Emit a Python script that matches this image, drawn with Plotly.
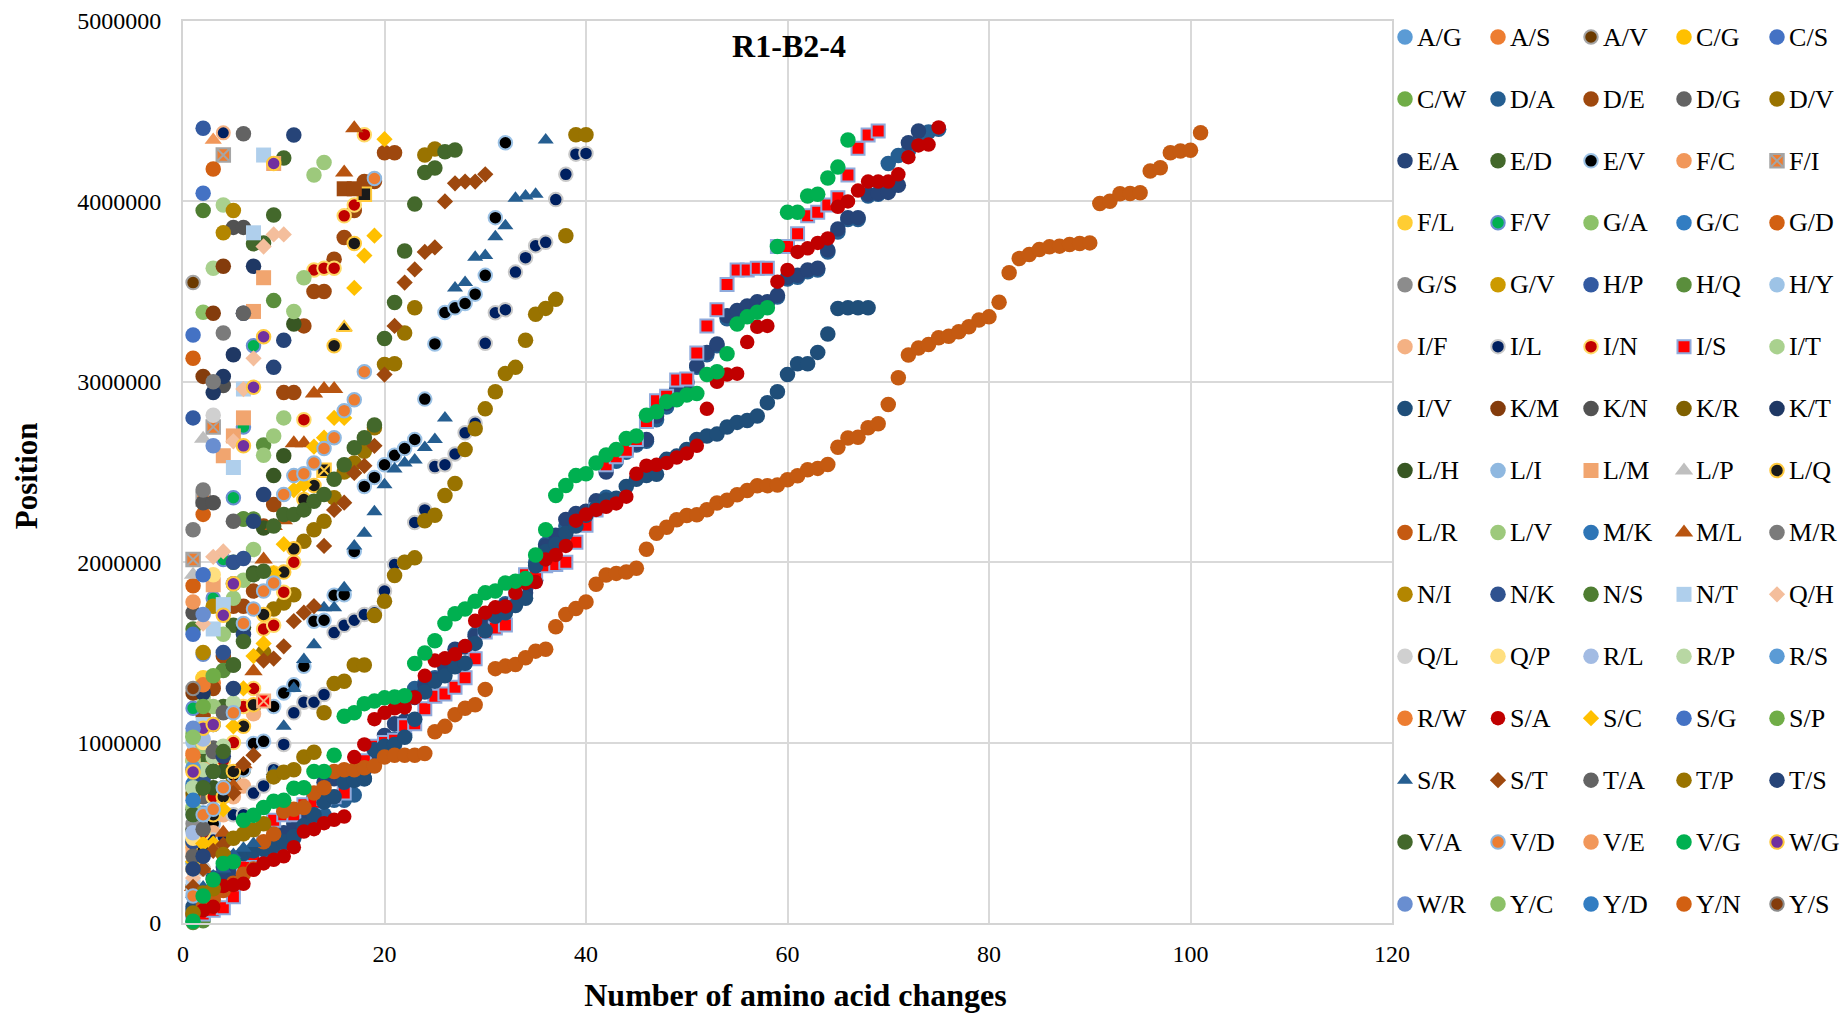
import plotly.graph_objects as go

FONT = "Liberation Serif"
names = ["A/G","A/S","A/V","C/G","C/S","C/W","D/A","D/E","D/G","D/V","E/A","E/D","E/V","F/C","F/I",
"F/L","F/V","G/A","G/C","G/D","G/S","G/V","H/P","H/Q","H/Y","I/F","I/L","I/N","I/S","I/T",
"I/V","K/M","K/N","K/R","K/T","L/H","L/I","L/M","L/P","L/Q","L/R","L/V","M/K","M/L","M/R",
"N/I","N/K","N/S","N/T","Q/H","Q/L","Q/P","R/L","R/P","R/S","R/W","S/A","S/C","S/G","S/P",
"S/R","S/T","T/A","T/P","T/S","V/A","V/D","V/E","V/G","W/G","W/R","Y/C","Y/D","Y/N","Y/S"]

fills = ["#5B9BD5","#ED7D31","#6B3A00","#FFC000","#4472C4","#70AD47","#255E91","#9E480E","#636363","#997300",
"#264478","#43682B","#000000","#F1975A","#ED7D31","#FFCD33","#00B050","#8CC168","#327DC2","#D26012",
"#8C8C8C","#CC9A00","#335AA1","#5A8E3C","#9DC3E6","#F4B183","#002060","#C00000","#FF0000","#A9D18E",
"#1F4E79","#843C0C","#525252","#7F6000","#1F3864","#385723","#8FB8E0","#F1A56F","#BFBFBF","#1A1A1A",
"#C55A11","#9DC97C","#2E75B6","#B85410","#7B7B7B","#B38600","#2F528F","#4E7D31","#AFCFEC","#F4BE9C",
"#D0D0D0","#FFDF80","#A2BBE3","#B8D7A3","#5B9BD5","#ED7D31","#C00000","#FFC000","#4472C4","#70AD47",
"#255E91","#9E480E","#636363","#997300","#264478","#43682B","#ED7D31","#F1975A","#00B050","#7030A0",
"#698ED0","#8CC168","#327DC2","#D26012","#843C0C"]

borders = {"A/V":"#A5A5A5","E/V":"#9DC3E6","F/I":"#A5A5A5","F/V":"#698ED0","I/L":"#C9C9C9","I/N":"#FFD966",
"I/S":"#8FAADC","L/Q":"#FFC93C","V/D":"#8FB8E0","W/G":"#FFC93C","Y/S":"#8C8C8C"}
symbols = {"F/I":"square-x","I/S":"square","L/M":"square","N/T":"square","L/P":"triangle-up","M/L":"triangle-up",
"S/R":"triangle-up","Q/H":"diamond","S/C":"diamond","S/T":"diamond"}
point_symbols = {"L/Q": {14:"square-x", 16:"triangle-up", 18:"square"}}

# Position values in millions; the x value of each point is its rank in the series (1, 2, 3 ...)
A_G = [0.33,0.61]
A_S = [0.94,1.31,1.33]
A_V = [3.55]
C_G = [0.44,1.355]
C_S = [3.26,4.045]
C_W = [0.52,0.924]
D_A = [.07,.13,.19,.27,.33,.37,.39,.40,.42,.44,.47,.52,.56,.6,.68,.68,.71,.8,.97,1.0,1.02,1.04,1.3,1.33,1.36,1.42,1.43,1.44,1.6,1.66,1.73,1.77,1.8,1.85,2.0,2.1,2.13,2.2,2.25,2.28,2.32,2.36,2.56,2.61,2.65,2.67,2.79,2.86,2.95,2.99,3.08,3.15,3.2,3.35,3.38,3.41,3.43,3.44,3.47,3.57,3.58,3.61,3.62,3.72,3.83,3.9,3.9,4.03,4.04,4.21,4.255,4.28,4.33,4.385,4.40]
D_E = [.85,1.15,1.3,1.48,1.756,1.756,1.84,2.2,2.32,2.94,2.94,3.31,3.5,3.5,3.68,3.8,3.95,4.11,4.11,4.27,4.27]
D_G = [.52,.7,.97,1.17,1.88,4.375]
D_V = [.3,.5,.6,.75,.8,.85,1.2,1.5,1.74,1.774,1.82,2.116,2.18,2.227,2.357,2.5,2.55,2.615,2.745,3.096,3.10,3.27,3.41,4.257,4.29]
E_A = [.04,.10,.16,.26,.30,.36,.40,.43,.46,.50,.55,.60,.70,.78,.80,.81,.82,.85,.95,1.04,1.105,1.12,1.25,1.32,1.35,1.415,1.517,1.53,1.59,1.67,1.74,1.76,1.784,1.83,1.9,2.09,2.15,2.237,2.27,2.283,2.34,2.5,2.59,2.63,2.66,2.68,2.81,2.88,2.96,3.0,3.09,3.163,3.21,3.366,3.395,3.42,3.444,3.444,3.48,3.58,3.59,3.62,3.63,3.73,3.847,3.91,3.91,4.04,4.045,4.05,4.09,4.325,4.39]
E_D = [.75,.9,.95,1.2,1.65,2.24,3.765,3.77,3.925,4.24]
E_V = [.3,.4,.55,.7,.82,.85,.995,1.007,1.2,1.275,1.32,1.423,1.673,1.678,1.817,1.82,2.06,2.42,2.47,2.54,2.593,2.63,2.68,2.904,3.21,3.384,3.41,3.434,3.486,3.59,3.91,4.325]
F_C = [0.7]
F_I = [2.015,2.35,2.75,4.257]
F_L = [0.42,1.36]
F_V = [1.19,1.49,1.8,2.015,2.357,2.75,3.2]
G_A = [1.05,3.385]
G_C = [0.45]
G_D = [1.87,2.265,4.18]
G_S = [0.55]
G_V = [0.9]
H_P = [2.8,4.405]
H_Q = [.003,.012,.9,1.4,2.0,2.24,2.24,2.65,3.45]
H_Y = [1.0]
I_F = [.2,.3,.5,.6,.7,.76,1.16]
I_L = [.2,.3,.46,.477,.60,.60,.72,.76,.85,.99,1.165,1.224,1.224,1.266,1.61,1.65,1.678,1.71,1.72,1.84,1.987,2.0,2.22,2.29,2.53,2.54,2.60,2.717,2.77,3.213,3.383,3.40,3.608,3.688,3.754,3.773,4.01,4.15,4.262,4.266]
I_N = [.3,.5,.7,.9,1.0,1.2,1.3,1.63,1.65,1.834,2.0,2.79,3.62,3.63,3.63,3.92,3.98,4.37]
I_S = [.03,.05,.07,.085,.146,.31,.38,.44,.57,.6,.6,.655,.67,.69,.70,.72,.80,.9,.98,1.0,1.013,1.094,1.105,1.187,1.257,1.27,1.307,1.36,1.465,1.613,1.635,1.652,1.83,1.93,1.94,1.98,1.987,2.0,2.11,2.205,2.29,2.54,2.585,2.62,2.68,2.78,2.895,2.92,3.01,3.015,3.16,3.31,3.40,3.54,3.62,3.62,3.63,3.63,3.75,3.75,3.82,3.92,3.94,3.98,4.02,4.146,4.294,4.368,4.39]
I_T = [.9,1.25,3.63,3.98]
I_V = [.09,.17,.25,.31,.36,.385,.40,.41,.43,.45,.48,.54,.6,.67,.70,.78,.79,.8,.96,.98,.99,1.03,1.13,1.28,1.34,1.37,1.42,1.44,1.55,1.62,1.7,1.72,1.76,1.8,1.98,2.06,2.1,2.16,2.2,2.26,2.3,2.345,2.354,2.42,2.46,2.48,2.487,2.57,2.588,2.625,2.68,2.70,2.71,2.75,2.775,2.785,2.81,2.884,2.945,3.04,3.10,3.10,3.163,3.265,3.406,3.41,3.41,3.41]
K_M = [1.275,3.03,3.38,3.64]
K_N = [1.72,2.33,2.33,2.98,3.856,3.856]
K_R = [0.72]
K_T = [.2,1.275,2.94,3.03,3.15,3.38,3.64]
L_H = [.63,.75,.75,.84,1.43,1.64,1.94,2.19,2.48,2.59,3.32]
L_I = [.6,.98]
L_M = [.4,.85,1.875,2.59,2.7,2.8,3.39,3.577,4.21]
L_P = [1.93,2.685]
L_Q = [.3,.4,.6,.7,.84,1.09,1.21,1.71,1.94,1.945,2.074,2.347,2.425,2.51,3.2,3.3,3.767,4.04]
L_R = [.05,.09,.13,.18,.22,.27,.30,.45,.494,.62,.63,.64,.72,.75,.84,.85,.85,.86,.87,.92,.93,.93,.93,.94,1.06,1.09,1.155,1.19,1.21,1.295,1.41,1.424,1.433,1.47,1.507,1.517,1.642,1.71,1.743,1.78,1.878,1.929,1.938,1.946,1.967,2.072,2.161,2.194,2.235,2.259,2.263,2.291,2.328,2.343,2.374,2.398,2.424,2.424,2.428,2.457,2.479,2.513,2.520,2.541,2.637,2.689,2.693,2.745,2.767,2.874,3.022,3.148,3.187,3.207,3.244,3.253,3.277,3.305,3.342,3.360,3.441,3.604,3.683,3.706,3.733,3.748,3.752,3.761,3.767,3.770,3.988,4.001,4.042,4.044,4.048,4.168,4.186,4.270,4.279,4.284,4.380]
L_V = [.64,.98,1.2,1.6,1.8,1.9,2.07,2.593,2.7,2.8,3.39,3.577,4.146,4.216]
M_K = [0.77]
M_L = [.2,.3,.4,.5,.76,.88,1.395,2.015,2.2,2.233,2.66,2.66,2.935,2.96,2.96,4.16,4.405]
M_R = [2.18,2.4,3.0,3.27]
N_I = [.2,1.5,1.756,3.826,3.95]
N_K = [.45,.8,1.1,1.5,2.0,2.02]
N_S = [1.63,3.95]
N_T = [.2,1.1,1.63,1.765,2.525,2.96,3.826,4.257]
Q_H = [.25,1.66,2.03,2.06,2.67,2.96,3.13,3.75,3.817,3.817]
Q_L = [.3,.6,2.815]
Q_P = [.47,1.0,1.93]
R_L = [.5,1.02]
R_P = [.75,.85,.92,.98,1.22]
R_S = [0.86]
R_W = [.93,1.32]
S_A = [.05,.07,.09,.205,.21,.217,.295,.33,.35,.37,.42,.507,.52,.553,.572,.59,.92,.99,1.13,1.165,1.19,1.195,1.25,1.37,1.455,1.467,1.49,1.535,1.675,1.72,1.75,1.755,1.83,1.885,1.89,2.015,2.04,2.09,2.23,2.265,2.29,2.307,2.326,2.363,2.49,2.535,2.54,2.55,2.58,2.603,2.645,2.85,3.0,3.04,3.045,3.22,3.305,3.31,3.555,3.62,3.72,3.74,3.77,3.795,3.97,4.0,4.06,4.11,4.11,4.11,4.15,4.245,4.31,4.315,4.41]
S_C = [.34,.44,.44,.63,1.09,1.3,1.48,1.55,1.94,2.1,2.4,2.43,2.64,2.69,2.8,2.8,3.52,3.70,3.81,4.345]
S_G = [1.6,1.93]
S_P = [1.035,1.2,1.37]
S_R = [.16,.2,.26,.3,.38,.415,.44,.55,.84,1.09,1.30,1.46,1.543,1.747,1.747,1.858,2.09,2.16,2.28,2.43,2.516,2.55,2.566,2.636,2.68,2.80,3.52,3.55,3.69,3.7,3.804,3.865,4.017,4.03,4.04,4.34]
S_T = [.2,.3,.4,.434,.72,.88,.93,1.455,1.466,1.534,1.673,1.72,1.756,2.09,2.29,2.33,2.495,2.534,2.645,3.04,3.31,3.55,3.623,3.72,3.745,4.0,4.10,4.11,4.11,4.15]
T_A = [.37,.52,.95,1.165,2.227,3.38]
T_P = [.055,.166,.19,.38,.47,.494,.517,.55,.81,.836,.85,.92,.946,1.165,1.327,1.34,1.43,1.43,1.704,1.784,1.926,2.0,2.024,2.23,2.26,2.37,2.436,2.625,2.74,2.85,2.945,3.046,3.08,3.23,3.375,3.407,3.457,3.81,4.37,4.37]
T_S = [.3,.37,.84,.924,1.3,1.6,2.227,2.375,3.08,3.23,4.368]
V_A = [.6,.75,.84,.95,1.43,1.56,1.93,1.95,2.2,2.264,2.264,2.29,2.338,2.375,2.46,2.54,2.635,2.69,2.76,3.24,3.44,3.725,3.985,4.16,4.185,4.275,4.285]
V_D = [.15,.6,.63,.75,1.165,1.66,1.74,1.84,1.885,2.375,2.48,2.49,2.55,2.63,2.69,2.84,2.9,3.056,4.127]
V_E = [1.78]
V_G = [.01,.15,.24,.33,.34,.57,.597,.64,.675,.68,.747,.75,.84,.84,.93,1.146,1.165,1.216,1.23,1.248,1.253,1.26,1.438,1.497,1.565,1.66,1.714,1.74,1.784,1.83,1.84,1.885,1.895,1.91,2.04,2.18,2.37,2.425,2.48,2.49,2.55,2.594,2.625,2.686,2.70,2.815,2.834,2.89,2.9,2.927,2.935,3.04,3.056,3.155,3.32,3.36,3.385,3.41,3.75,3.94,3.94,4.03,4.04,4.13,4.19,4.34]
W_G = [.837,1.08,1.1,1.706,1.88,2.645,2.97,3.25,4.21]
W_R = [1.08,1.71,2.645]
Y_C = [1.03]
Y_D = [0.68]
Y_N = [3.13]
Y_S = [1.3]

series = [A_G,A_S,A_V,C_G,C_S,C_W,D_A,D_E,D_G,D_V,E_A,E_D,E_V,F_C,F_I,F_L,F_V,G_A,G_C,G_D,G_S,G_V,H_P,H_Q,H_Y,
I_F,I_L,I_N,I_S,I_T,I_V,K_M,K_N,K_R,K_T,L_H,L_I,L_M,L_P,L_Q,L_R,L_V,M_K,M_L,M_R,N_I,N_K,N_S,N_T,Q_H,Q_L,Q_P,R_L,R_P,R_S,
R_W,S_A,S_C,S_G,S_P,S_R,S_T,T_A,T_P,T_S,V_A,V_D,V_E,V_G,W_G,W_R,Y_C,Y_D,Y_N,Y_S]

# Marks in the picture whose style has no legend key
extra_x = [[16,17],[3],[4],[8]]
extra_y = [[4.07,4.07],[4.34],[4.38],[1.23]]
extra_fill = ["#9E480E","#F1975A","#002060","#FF0000"]
extra_border = [None,None,"#F4B183","#F4B183"]
extra_symbol = ["square","triangle-up","circle","square-x"]

X_TICKS = [0,20,40,60,80,100,120]
Y_TICKS = [0,1000000,2000000,3000000,4000000,5000000]
W, H = 1846, 1013
L, R, T, B = 183, 1392, 21, 923
COLS = 5

def marker(name, fill):
    sym = symbols.get(name, "circle")
    bd = borders.get(name)
    size = 15.5
    if name in ("L/P", "M/L"): size = 16
    if name == "S/R": size = 14
    if sym == "diamond": size = 12.5
    if sym == "square": size = 15
    if name == "S/A": size = 14.5
    if bd:
        return dict(symbol=sym, size=size-2, color=fill, line=dict(color=bd, width=2))
    return dict(symbol=sym, size=size, color=fill, line=dict(width=0))

fig = go.Figure()
for name, fill, ys in zip(names, fills, series):
    m = marker(name, fill)
    if name in point_symbols:
        m["symbol"] = [point_symbols[name].get(k+1, m["symbol"]) for k in range(len(ys))]
    fig.add_trace(go.Scatter(x=list(range(1, len(ys)+1)), y=[v*1e6 for v in ys], mode="markers",
                             name=name, marker=m, cliponaxis=False))
for ex, ey, ef, eb, es in zip(extra_x, extra_y, extra_fill, extra_border, extra_symbol):
    line = dict(color=eb, width=2) if eb else dict(width=0)
    fig.add_trace(go.Scatter(x=ex, y=[v*1e6 for v in ey], mode="markers", hoverinfo="skip", cliponaxis=False,
                             marker=dict(symbol=es, size=13 if eb else 15, color=ef, line=line)))
for i, (name, fill) in enumerate(zip(names, fills)):
    fig.add_trace(go.Scatter(x=[i % COLS], y=[i // COLS], mode="markers", marker=marker(name, fill),
                             xaxis="x2", yaxis="y2", hoverinfo="skip", cliponaxis=False))
    fig.add_trace(go.Scatter(x=[i % COLS + 0.13], y=[i // COLS + 0.035], mode="text", text=[name],
                             textposition="middle right", textfont=dict(family=FONT, size=26, color="#000000"),
                             xaxis="x2", yaxis="y2", hoverinfo="skip", cliponaxis=False))

fig.update_layout(
    width=W, height=H, showlegend=False, margin=dict(l=0, r=0, t=0, b=0), autosize=False,
    plot_bgcolor="white", paper_bgcolor="white", font=dict(family=FONT, color="#000000"),
    title=dict(text="<b>R1-B2-4</b>", x=789/W, y=1-46/H, xanchor="center", yanchor="middle",
               xref="paper", yref="paper", font=dict(size=32, family=FONT)),
    xaxis=dict(domain=[L/W, R/W], range=[0,120], tickvals=X_TICKS, showgrid=True, gridcolor="#D9D9D9", gridwidth=2,
               zeroline=False, showline=True, mirror=True, linecolor="#D4D4D4", linewidth=2, ticks="", automargin=False,
               tickfont=dict(size=24, family=FONT), anchor="y", ticklabelstandoff=8,
               title=dict(text="<b>&nbsp;&nbsp;Number of amino acid changes</b>", font=dict(size=32, family=FONT), standoff=24)),
    yaxis=dict(domain=[1-B/H, 1-T/H], range=[0,5000000], tickvals=Y_TICKS, tickformat="d", showgrid=True, gridcolor="#D9D9D9", gridwidth=2,
               zeroline=False, showline=True, mirror=True, linecolor="#D4D4D4", linewidth=2, ticks="", automargin=False,
               tickfont=dict(size=24, family=FONT), anchor="x", ticklabelstandoff=15,
               title=dict(text="<b>Position&nbsp;</b>", font=dict(size=31, family=FONT), standoff=30)),
    xaxis2=dict(domain=[R/W, 1], range=[-13/93, 4.742], visible=False, anchor="y2", fixedrange=True),
    yaxis2=dict(domain=[0, 1], range=[15.76, -0.597], visible=False, anchor="x2", fixedrange=True),
)
fig.write_html("out.html", post_script="document.body.style.margin='0';", config={"displayModeBar": False})
